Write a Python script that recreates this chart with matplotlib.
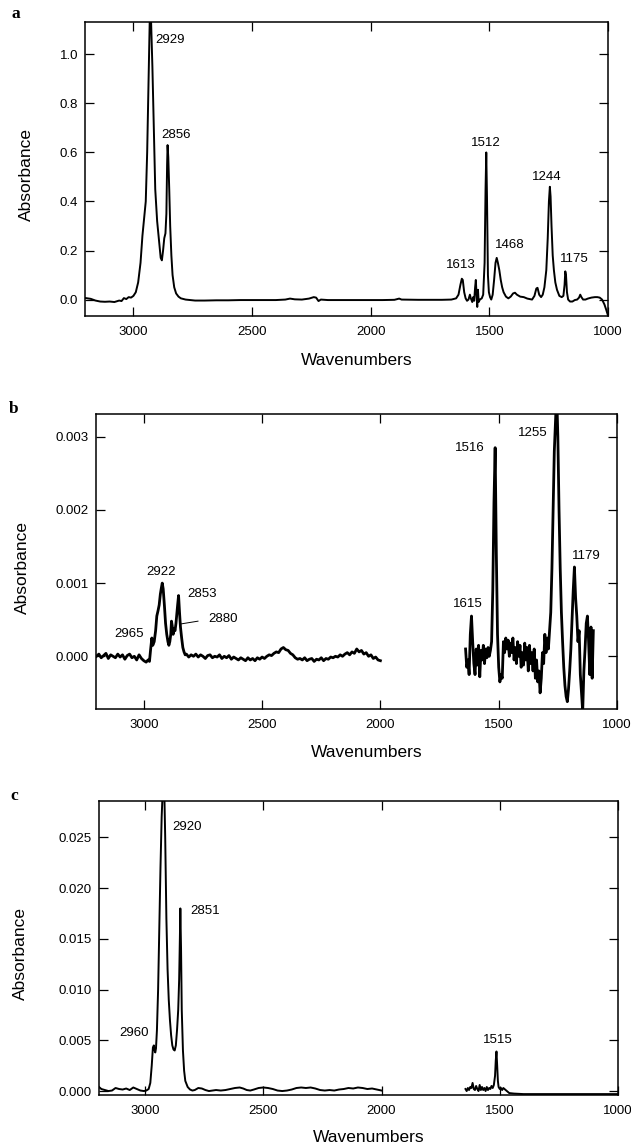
import matplotlib
matplotlib.use("Agg")
import matplotlib.pyplot as plt
import numpy as np
from matplotlib.ticker import FormatStrFormatter

plt.rcParams['font.family'] = ['Liberation Sans', 'DejaVu Sans']

# ---------------- Panel a ----------------
a_wn = [3200, 3180, 3160, 3140, 3120, 3100, 3080, 3060, 3050, 3040, 3030, 3020, 3010, 3000,
        2990, 2980, 2970, 2962, 2955, 2948, 2942, 2936, 2931, 2929, 2926, 2920, 2914, 2908,
        2900, 2892, 2885, 2880, 2875, 2870, 2865, 2861, 2858, 2856, 2853, 2849, 2845, 2840,
        2835, 2828, 2820, 2810, 2800, 2780, 2760, 2740, 2700, 2650, 2600, 2550, 2500, 2450,
        2400, 2360, 2340, 2320, 2290, 2260, 2240, 2230, 2220, 2210, 2180, 2100, 2000, 1950,
        1900, 1880, 1870, 1800, 1750, 1700, 1660, 1640, 1630, 1622, 1616, 1612, 1606, 1600,
        1594, 1588, 1582, 1578, 1572, 1568, 1564, 1560, 1557, 1554, 1551, 1548, 1545, 1540,
        1532, 1526, 1520, 1516, 1513, 1510, 1506, 1502, 1497, 1492, 1486, 1480, 1474, 1469,
        1464, 1458, 1452, 1446, 1440, 1430, 1420, 1410, 1400, 1392, 1384, 1370, 1355, 1340,
        1320, 1310, 1302, 1297, 1290, 1282, 1275, 1268, 1260, 1254, 1249, 1245, 1242, 1238,
        1233, 1228, 1222, 1215, 1205, 1195, 1188, 1183, 1180, 1177, 1173, 1168, 1160, 1150,
        1140, 1130, 1122, 1117, 1112, 1105, 1095, 1085, 1070, 1055, 1045, 1035, 1025, 1015,
        1008, 1000]
a_abs = [0.006, 0.003, -0.004, -0.008, -0.009, -0.008, -0.010, -0.004, -0.006, 0.006, 0.002, 0.010, 0.008, 0.015,
         0.030, 0.070, 0.150, 0.260, 0.330, 0.400, 0.600, 0.900, 1.150, 1.250, 1.150, 0.950, 0.700, 0.450,
         0.320, 0.240, 0.170, 0.160, 0.200, 0.250, 0.270, 0.350, 0.550, 0.630, 0.580, 0.450, 0.300, 0.180,
         0.100, 0.050, 0.025, 0.012, 0.005, 0.000, -0.002, -0.004, -0.004, -0.003, -0.003, -0.002, -0.002, -0.002,
         -0.002, 0.000, 0.004, 0.001, 0.000, 0.004, 0.010, 0.008, -0.006, 0.000, -0.002, -0.002, -0.002, -0.002,
         -0.001, 0.004, 0.000, -0.001, -0.001, -0.001, 0.000, 0.005, 0.020, 0.060, 0.085, 0.080, 0.030, 0.005,
         -0.005, 0.000, 0.020, 0.005, -0.010, 0.010, -0.005, 0.050, 0.080, 0.020, -0.030, 0.040, -0.010, 0.000,
         0.005, 0.020, 0.150, 0.450, 0.600, 0.420, 0.100, 0.030, 0.010, 0.000, 0.020, 0.080, 0.150, 0.170,
         0.150, 0.120, 0.080, 0.050, 0.030, 0.012, 0.005, 0.012, 0.025, 0.028, 0.020, 0.012, 0.010, 0.004,
         0.000, 0.015, 0.045, 0.048, 0.020, 0.010, 0.020, 0.050, 0.120, 0.250, 0.400, 0.460, 0.420, 0.300,
         0.180, 0.120, 0.070, 0.040, 0.015, 0.010, 0.015, 0.060, 0.115, 0.100, 0.030, 0.000, -0.008, -0.008,
         -0.002, 0.000, 0.008, 0.020, 0.010, 0.000, 0.000, 0.004, 0.008, 0.010, 0.010, 0.008, 0.000, -0.020,
         -0.040, -0.065]
a_labels = ["2929", "2856", "1613", "1512", "1468", "1244", "1175"]
a_label_x = [2906, 2821, 1622, 1515, 1413, 1257, 1141]
a_label_y = [1.06, 0.673, 0.139, 0.64, 0.222, 0.50, 0.166]
a_label_ha = ["left", "center", "center", "center", "center", "center", "center"]
a_yticks = [0.0, 0.2, 0.4, 0.6, 0.8, 1.0]

# ---------------- Panel b (values in units of 0.001) ----------------
b_wn1 = (list(range(3200, 3000, -10)) +
         [3000, 2990, 2982, 2976, 2971, 2966, 2962, 2956, 2950, 2945, 2940, 2935, 2930, 2926,
          2922, 2918, 2913, 2908, 2903, 2898, 2894, 2890, 2886, 2883, 2880, 2876, 2872, 2868,
          2864, 2860, 2857, 2853, 2849, 2845, 2840, 2835, 2830, 2825, 2820, 2810, 2800] +
         list(range(2790, 1990, -10)))
b_abs1_milli = [0.0, 0.03, -0.02, 0.01, 0.04, -0.03, 0.02, 0.0, -0.02, 0.03,
                -0.01, 0.02, -0.04, 0.01, 0.03, -0.02, 0.0, -0.05, 0.02, -0.03,
                -0.06, -0.08, -0.05, -0.07, 0.10, 0.25, 0.15, 0.20, 0.35, 0.55, 0.62, 0.70, 0.85, 0.93,
                1.00, 0.92, 0.70, 0.45, 0.30, 0.20, 0.15, 0.20, 0.30, 0.48, 0.42, 0.30, 0.38, 0.35,
                0.45, 0.60, 0.70, 0.83, 0.60, 0.40, 0.25, 0.12, 0.06, 0.02, 0.03, -0.01, 0.02,
                0.0, 0.03, -0.01, 0.02, 0.0, -0.03, 0.01, 0.02, -0.02, 0.0, -0.01, 0.02, -0.03, 0.0,
                -0.02, 0.01, -0.04, -0.01, -0.03,
                -0.05, -0.02, -0.04, -0.06, -0.02, -0.05, -0.03, -0.06, -0.02, -0.04, -0.01, -0.03,
                0.0, 0.02, 0.01, 0.04,
                0.06, 0.05, 0.10, 0.12, 0.09, 0.08, 0.04, 0.02, -0.02, -0.04,
                -0.03, -0.05, -0.02, -0.06, -0.04, -0.03, -0.07, -0.04, -0.05, -0.02, -0.06, -0.03,
                -0.04, -0.01, -0.02,
                0.0, -0.01, 0.02, 0.0, 0.03, 0.05, 0.02, 0.06, 0.04, 0.10, 0.06, 0.08, 0.03, 0.05,
                0.0, 0.02, -0.03, -0.01, -0.05, -0.06]
b_wn2 = list(range(1640, 1095, -5))
b_abs2_milli = [0.10, -0.15, -0.05, -0.25, 0.30, 0.55, 0.20, -0.10, -0.25,
                0.10, -0.12, 0.15, -0.28, 0.08, -0.05, 0.15, -0.10, 0.10,
                -0.02, 0.12, 0.00, 0.08, 0.20, 0.90, 2.10, 2.85, 1.40,
                0.30, -0.15, -0.35, -0.25, -0.30, 0.20, 0.05, 0.25, 0.10,
                0.22, 0.00, 0.18, 0.05, 0.25, -0.05, 0.12, -0.10, 0.20,
                0.00, 0.15, -0.15, 0.05, -0.12, 0.18, -0.05, 0.12, -0.20,
                0.15, -0.10, 0.05, -0.20, 0.10, -0.30, -0.05, -0.35, -0.20,
                -0.50, -0.30, 0.05, -0.10, 0.30, 0.05, 0.25, 0.10, 0.35,
                0.60, 1.20, 2.00, 2.80, 3.20, 3.60, 3.00, 2.00, 1.20,
                0.60, 0.20, -0.15, -0.40, -0.55, -0.62, -0.45, -0.20, 0.10,
                0.50, 0.90, 1.22, 0.80, 0.55, 0.20, 0.35, -0.25, -0.50,
                -0.75, -0.20, 0.10, 0.45, 0.55, 0.20, -0.25, 0.40, -0.30,
                0.35]
b_labels = ["2965", "2922", "2853", "2880", "1615", "1516", "1255", "1179"]
b_label_x = [3063, 2928, 2752, 2665, 1629, 1624, 1354, 1128]
b_label_y_milli = [0.30, 1.15, 0.85, 0.51, 0.71, 2.85, 3.05, 1.37]
b_leader_x = [2771, 2847]
b_leader_y_milli = [0.48, 0.44]
b_yticks = [0.000, 0.001, 0.002, 0.003]

# ---------------- Panel c (values in units of 0.001) ----------------
c_wn1 = [3195, 3185, 3170, 3155, 3140, 3125, 3110, 3095, 3080, 3065, 3050, 3035, 3020, 3005,
         2995, 2985, 2978, 2972, 2967, 2963, 2960, 2957, 2954, 2950, 2945, 2940, 2935, 2930,
         2925, 2920, 2915, 2910, 2905, 2900, 2895, 2890, 2885, 2880, 2875, 2870, 2865, 2860,
         2856, 2853, 2851, 2848, 2845, 2840, 2835, 2830, 2820, 2810, 2800, 2790, 2775, 2760,
         2745, 2730, 2715, 2700, 2680, 2660, 2640, 2620, 2600, 2585, 2570, 2555, 2540, 2520,
         2500, 2480, 2460, 2440, 2420, 2400, 2380, 2360, 2340, 2320, 2300, 2280, 2260, 2240,
         2220, 2200, 2180, 2160, 2140, 2120, 2100, 2080, 2060, 2040, 2020, 2000]
c_abs1_milli = [0.4, 0.2, 0.1, 0.0, 0.05, 0.3, 0.2, 0.15, 0.25, 0.1, 0.35, 0.2, 0.05, 0.0,
                0.05, 0.2, 0.8, 2.5, 4.3, 4.5, 4.0, 3.8, 4.2, 6.0, 10.0, 16.0, 22.0, 27.0,
                30.0, 31.0, 25.0, 17.0, 12.0, 9.0, 7.0, 5.5, 4.5, 4.1, 4.0, 4.5, 6.0, 8.0,
                11.0, 15.0, 18.0, 14.0, 8.0, 4.0, 2.0, 1.0, 0.4, 0.15, 0.05, 0.1, 0.3, 0.25,
                0.1, 0.0, 0.05, 0.1, 0.05, 0.1, 0.2, 0.3, 0.35, 0.25, 0.1, 0.05, 0.15, 0.3,
                0.35, 0.3, 0.2, 0.05, 0.0, 0.05, 0.15, 0.3, 0.35, 0.3, 0.35, 0.25, 0.1, 0.05,
                0.1, 0.05, 0.15, 0.2, 0.3, 0.25, 0.35, 0.3, 0.2, 0.25, 0.15, 0.05]
c_wn2 = (list(range(1645, 1515, -5)) +
         [1517, 1514, 1511, 1508, 1505, 1500, 1495, 1490, 1485, 1480, 1475, 1470,
          1460, 1440, 1400, 1300, 1200, 1100, 1000])
c_abs2_milli = [0.2, 0.0, 0.3, 0.1, 0.4, 0.3, 0.8, 0.2, 0.1, 0.5, 0.2, 0.0, 0.6, 0.1, 0.4,
                0.1, 0.3, 0.0, 0.4, 0.1, 0.3, 0.2, 0.5, 0.3, 0.6, 1.5,
                3.0, 3.9, 2.5, 1.0, 0.4, 0.2, 0.3, 0.1, 0.3, 0.2, 0.1, 0.0,
                -0.2, -0.25, -0.3, -0.3, -0.3, -0.3, -0.3]
c_labels = ["2920", "2851", "2960", "1515"]
c_label_x = [2886, 2745, 3048, 1510]
c_label_y_milli = [26.0, 17.7, 5.7, 5.05]
c_label_ha = ["left", "center", "center", "center"]
c_yticks = [0.000, 0.005, 0.010, 0.015, 0.020, 0.025]

xticks = [3000, 2500, 2000, 1500, 1000]

# ---------------- Figure ----------------
W, H = 631, 1147
fig = plt.figure(figsize=(W / 100, H / 100), dpi=100)


def make_axes(left, right, top, bottom):
    return fig.add_axes([left / W, 1 - bottom / H, (right - left) / W, (bottom - top) / H])


def style(ax, ylim, yticks, yfmt, xlim, lab_x):
    ax.set_xlim(*xlim)
    ax.set_ylim(*ylim)
    ax.set_xticks(xticks)
    ax.set_yticks(yticks)
    ax.yaxis.set_major_formatter(FormatStrFormatter(yfmt))
    ax.tick_params(direction='in', length=6.5, width=0.9, top=True, right=True,
                   labelsize=9.5, pad=5)
    ax.tick_params(axis='x', pad=7)
    for s in ax.spines.values():
        s.set_linewidth(1.1)
    ax.set_ylabel("Absorbance", fontsize=12.5)
    ax.yaxis.set_label_coords(lab_x, 0.48)
    ax.set_xlabel("Wavenumbers", fontsize=12.5)


LW = 1.4
# a
ax = make_axes(85, 608, 22, 316)
ax.plot(a_wn, a_abs, color='black', lw=LW)
for t, x, y, ha in zip(a_labels, a_label_x, a_label_y, a_label_ha):
    ax.text(x, y, t, ha=ha, va='center', fontsize=9.5)
style(ax, (-0.067, 1.132), a_yticks, '%.1f', (3204, 1000), -0.0975)
ax.xaxis.set_label_coords(0.52, -0.126)
fig.text(16 / W, 1 - 14 / H, "a", fontsize=12.5, fontweight='bold', family='Liberation Serif',
         ha='center', va='center')

# b
ax = make_axes(96, 617, 414, 709)
b1 = np.array(b_abs1_milli) * 1e-3
b2 = np.array(b_abs2_milli) * 1e-3
ax.plot(b_wn1, b1, color='black', lw=2.0)
ax.plot(b_wn2, b2, color='black', lw=2.0)
for t, x, y in zip(b_labels, b_label_x, b_label_y_milli):
    ax.text(x, y * 1e-3, t, ha='center', va='center', fontsize=9.5)
ax.plot(b_leader_x, np.array(b_leader_y_milli) * 1e-3, color='black', lw=0.7)
style(ax, (-0.00072, 0.00331), b_yticks, '%.3f', (3202, 1000), -0.127)
ax.xaxis.set_label_coords(0.52, -0.122)
fig.text(14 / W, 1 - 409 / H, "b", fontsize=12.5, fontweight='bold', family='Liberation Serif',
         ha='center', va='center')

# c
ax = make_axes(99, 618, 801, 1095)
c1 = np.array(c_abs1_milli) * 1e-3
c2 = np.array(c_abs2_milli) * 1e-3
ax.plot(c_wn1, c1, color='black', lw=LW)
ax.plot(c_wn2, c2, color='black', lw=LW)
for t, x, y, ha in zip(c_labels, c_label_x, c_label_y_milli, c_label_ha):
    ax.text(x, y * 1e-3, t, ha=ha, va='center', fontsize=9.5)
style(ax, (-0.00039, 0.02859), c_yticks, '%.3f', (3195, 1000), -0.137)
ax.xaxis.set_label_coords(0.52, -0.120)
fig.text(14 / W, 1 - 796 / H, "c", fontsize=12.5, fontweight='bold', family='Liberation Serif',
         ha='center', va='center')

fig.savefig("out.png", dpi=100)
